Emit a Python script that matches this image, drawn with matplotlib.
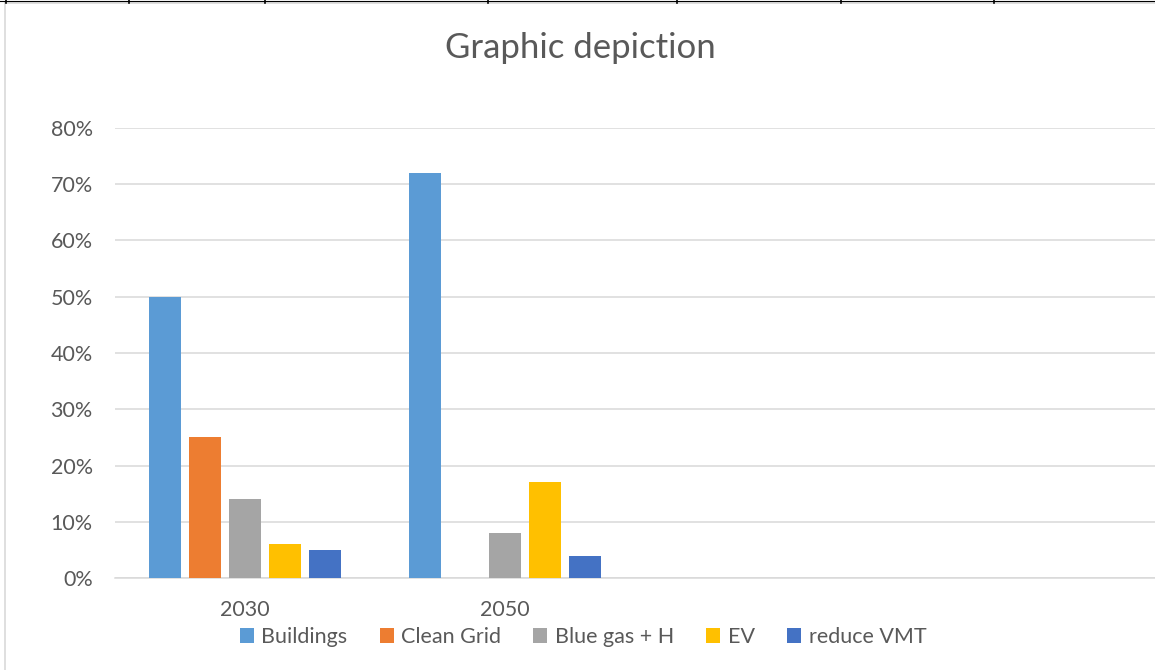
import matplotlib
matplotlib.use("Agg")
import matplotlib.pyplot as plt
import numpy as np
from matplotlib.lines import Line2D
from matplotlib.patches import Patch
from matplotlib.ticker import PercentFormatter

plt.rcParams['font.family'] = ['Lato', 'DejaVu Sans']

# Categories on the x axis (the last two slots are empty in the sheet)
categories = ["2030", "2050", "", ""]

# Share of each measure per target year
series_names = ["Buildings", "Clean Grid", "Blue gas + H", "EV", "reduce VMT"]
buildings = [0.50, 0.72, None, None]
clean_grid = [0.25, 0.00, None, None]
blue_gas_h = [0.14, 0.08, None, None]
ev = [0.06, 0.17, None, None]
reduce_vmt = [0.05, 0.04, None, None]
series_values = [buildings, clean_grid, blue_gas_h, ev, reduce_vmt]

colors = ["#5B9BD5", "#ED7D31", "#A5A5A5", "#FFC000", "#4472C4"]
text_color = "#595959"
grid_color = "#D9D9D9"

W, H = 1155, 670
fig = plt.figure(figsize=(W / 100, H / 100), dpi=100)

ax = fig.add_axes([115 / W, (H - 578) / H, 1040 / W, 450 / H])

x = np.arange(len(categories))
pitch = 0.154
width = 0.123
for i, (name, vals, col) in enumerate(zip(series_names, series_values, colors)):
    v = np.array([np.nan if a is None else a for a in vals], dtype=float)
    ax.bar(x + (i - 2) * pitch, v, width=width, color=col, label=name, zorder=3)

ax.set_xlim(-0.5, len(categories) - 0.5)
ax.set_ylim(0, 0.8)
ax.set_yticks(np.arange(0, 0.81, 0.1))
ax.yaxis.set_major_formatter(PercentFormatter(1.0, decimals=0))
ax.set_xticks(x)
ax.set_xticklabels(categories)
ax.tick_params(axis='both', length=0, labelsize=15.5, colors=text_color)
ax.tick_params(axis='y', pad=16)
ax.tick_params(axis='x', pad=16)
ax.grid(axis='y', color=grid_color, linewidth=1.1, zorder=0)
for s in ["top", "right", "left"]:
    ax.spines[s].set_visible(False)
ax.spines["bottom"].set_color(grid_color)
ax.spines["bottom"].set_linewidth(1.1)

fig.text(580 / W, 1 - 48 / H, "Graphic depiction", ha="center", va="center",
         fontsize=25, color=text_color)

handles = [Patch(facecolor=c, edgecolor="none") for c in colors]
fig.legend(handles, series_names, loc="center", bbox_to_anchor=(583 / W, 1 - 637 / H),
           ncol=5, frameon=False, fontsize=15.5, labelcolor=text_color,
           handlelength=0.65, handleheight=0.65, handletextpad=0.35,
           columnspacing=1.5, borderpad=0)

# Chart frame and the sheet border above it
fig.add_artist(Line2D([5 / W, 1], [1 - 2.5 / H, 1 - 2.5 / H], color=grid_color, linewidth=1.2))
fig.add_artist(Line2D([5 / W, 5 / W], [0, 1 - 2.5 / H], color=grid_color, linewidth=1.2))
fig.add_artist(Line2D([0, 1], [1 - 0.5 / H, 1 - 0.5 / H], color="black", linewidth=0.8))
for tx in [6, 129, 265, 488, 677, 841, 994]:
    fig.add_artist(Line2D([tx / W, tx / W], [1, 1 - 2.5 / H], color="black", linewidth=1.2))

fig.savefig("out.png", dpi=100)
